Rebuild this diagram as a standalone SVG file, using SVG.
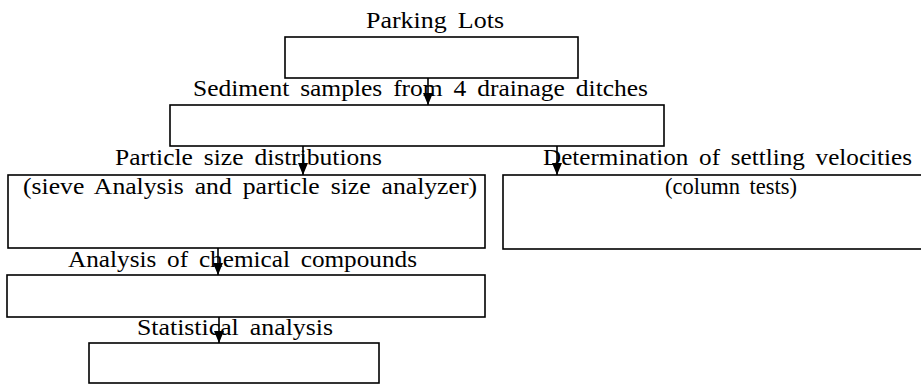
<svg xmlns="http://www.w3.org/2000/svg" width="921" height="385" viewBox="0 0 921 385">
<style>
.box{fill:none;stroke:#000;stroke-width:1.6}
.lbl{font-family:"Liberation Serif","Times New Roman",serif;font-size:22.5px;fill:#000;word-spacing:4px}
.conn{stroke:#000;stroke-width:1.6;fill:none;marker-end:url(#ah)}
</style>
<defs>
<marker id="ah" viewBox="0 0 12 10" refX="12" refY="5" markerWidth="12" markerHeight="10" markerUnits="userSpaceOnUse" orient="auto">
<path d="M0,0 L12,5 L0,10 Z" fill="#000"/>
</marker>
</defs>
<rect width="921" height="385" fill="#fff"/>
<g id="parking">
<text class="lbl" x="366" y="28" textLength="138" lengthAdjust="spacingAndGlyphs">Parking Lots</text>
<rect class="box" x="285" y="37" width="293" height="41"/>
</g>
<g id="sediment">
<text class="lbl" x="193" y="96" textLength="455" lengthAdjust="spacingAndGlyphs">Sediment samples from 4 drainage ditches</text>
<rect class="box" x="170" y="105" width="494" height="41"/>
</g>
<g id="particle">
<text class="lbl" x="115" y="165" textLength="267" lengthAdjust="spacingAndGlyphs">Particle size distributions</text>
<rect class="box" x="8" y="175" width="477" height="73"/>
<text class="lbl" x="23" y="194" textLength="454" lengthAdjust="spacingAndGlyphs">(sieve Analysis and particle size analyzer)</text>
</g>
<g id="settling">
<text class="lbl" x="543" y="165" textLength="369" lengthAdjust="spacingAndGlyphs">Determination of settling velocities</text>
<rect class="box" x="503" y="175" width="430" height="74"/>
<text class="lbl" x="665" y="194" textLength="132" lengthAdjust="spacingAndGlyphs">(column tests)</text>
</g>
<g id="chemical">
<text class="lbl" x="68" y="267" textLength="349" lengthAdjust="spacingAndGlyphs">Analysis of chemical compounds</text>
<rect class="box" x="7" y="275" width="478" height="42"/>
</g>
<g id="statistical">
<text class="lbl" x="137" y="335" textLength="196" lengthAdjust="spacingAndGlyphs">Statistical analysis</text>
<rect class="box" x="89" y="343" width="290" height="40"/>
</g>
<g id="connectors">
<line class="conn" x1="428" y1="78" x2="428" y2="105"/>
<line class="conn" x1="303" y1="146" x2="303" y2="175"/>
<line class="conn" x1="557" y1="146" x2="557" y2="175"/>
<line class="conn" x1="218" y1="248" x2="218" y2="275"/>
<line class="conn" x1="219" y1="317" x2="219" y2="343"/>
</g>
</svg>
